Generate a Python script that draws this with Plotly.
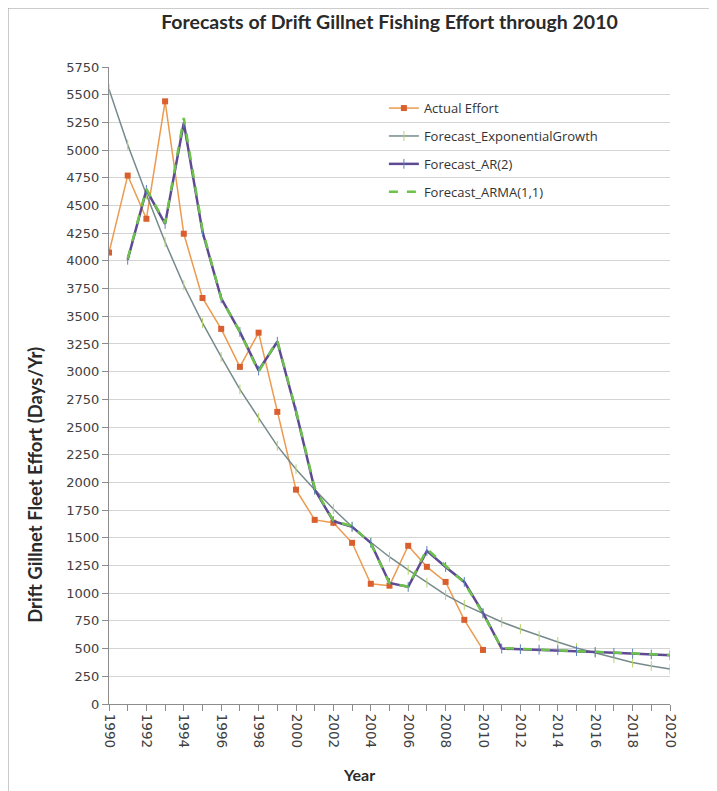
import plotly.graph_objects as go

years_actual = list(range(1990, 2011))
actual_effort = [4075, 4770, 4380, 5440, 4245, 3665, 3386, 3043, 3352, 2637, 1935,
                 1662, 1636, 1455, 1085, 1068, 1428, 1238, 1102, 760, 488]

years_exp = list(range(1990, 2021))
forecast_exp = [5550, 5048, 4600, 4170, 3780, 3440, 3133, 2840, 2583, 2330, 2120,
                1935, 1760, 1600, 1460, 1327, 1210, 1095, 985, 895, 815,
                740, 677, 615, 560, 505, 460, 415, 375, 343, 316]

years_fc = list(range(1991, 2021))
forecast_ar2 = [4010, 4641, 4334, 5246, 4262, 3662, 3359, 3010, 3270, 2640, 1935,
                1650, 1600, 1454, 1093, 1057, 1382, 1237, 1102, 822,
                500, 495, 490, 485, 478, 470, 462, 455, 447, 440]
forecast_arma = [4020, 4650, 4340, 5290, 4280, 3660, 3360, 3000, 3280, 2650, 1950,
                 1655, 1605, 1450, 1090, 1060, 1400, 1245, 1095, 815,
                 505, 498, 492, 486, 480, 472, 465, 457, 450, 443]

y_ticks = list(range(0, 5751, 250))

fig = go.Figure()

fig.add_trace(go.Scatter(
    x=years_actual, y=actual_effort, name="Actual Effort", mode="lines+markers",
    line=dict(color="#EC9A4E", width=1.5),
    marker=dict(symbol="square", size=6, color="#D9602E"),
    legendgroup="a"))
fig.add_trace(go.Scatter(
    x=years_exp, y=forecast_exp, name="Forecast_ExponentialGrowth", mode="lines+markers",
    line=dict(color="#768A8C", width=1.5),
    marker=dict(symbol="line-ns", size=7, line=dict(color="#B5D46A", width=1)),
    legendgroup="b"))
fig.add_trace(go.Scatter(
    x=years_fc, y=forecast_ar2, name="Forecast_AR(2)", mode="lines+markers",
    line=dict(color="#5E4A92", width=2.5),
    marker=dict(symbol="line-ns", size=7, line=dict(color="#5B7FC0", width=1)),
    legendgroup="c"))
fig.add_trace(go.Scatter(
    x=years_fc, y=forecast_arma, name="Forecast_ARMA(1,1)", mode="lines",
    line=dict(color="#6CC24A", width=2.5, dash="dash"),
    legendgroup="d"))

fig.update_layout(
    width=717, height=791,
    paper_bgcolor="white", plot_bgcolor="white",
    margin=dict(l=101, r=55, t=59, b=95),
    title=dict(text="<b>Forecasts of Drift Gillnet Fishing Effort through 2010</b>",
               x=0.5, xref="paper", xanchor="center", y=0.982, yanchor="middle",
               font=dict(family="Lato", size=19.5, color="#2a2a2a")),
    legend=dict(x=0.49, y=0.959, xanchor="left", yanchor="top",
                bgcolor="rgba(0,0,0,0)", tracegroupgap=8,
                font=dict(family="Open Sans", size=13, color="#333333")),
    font=dict(family="DejaVu Sans", size=13, color="#404040"),
)

fig.update_xaxes(
    range=[1990, 2020], tick0=1990, dtick=2, tickangle=90,
    showgrid=False, zeroline=False,
    showline=True, linecolor="#8c8c8c", linewidth=1,
    ticks="outside", ticklen=6, tickcolor="#8c8c8c",
    minor=dict(dtick=1, ticks="outside", ticklen=6, tickcolor="#8c8c8c", showgrid=False),
    tickfont=dict(family="DejaVu Sans", size=13.5, color="#404040"),
)
fig.update_yaxes(
    range=[0, 5750], tickvals=y_ticks, ticktext=[str(v) for v in y_ticks],
    showgrid=True, gridcolor="#d4d4d4", gridwidth=1, zeroline=False,
    showline=True, linecolor="#8c8c8c", linewidth=1,
    ticks="outside", ticklen=6, tickcolor="#8c8c8c",
    tickfont=dict(family="DejaVu Sans", size=13, color="#404040"),
)

fig.add_annotation(text="<b>Year</b>", xref="paper", yref="paper",
                   x=0.445, y=-0.111, xanchor="center", yanchor="middle", showarrow=False,
                   font=dict(family="Lato", size=16, color="#2a2a2a"))
fig.add_annotation(text="<b>Drift Gillnet Fleet Effort (Days/Yr)</b>", xref="paper", yref="paper",
                   x=-0.132, y=0.344, xanchor="center", yanchor="middle", showarrow=False,
                   textangle=-90,
                   font=dict(family="Lato", size=18.5, color="#2a2a2a"))

fig.add_shape(type="rect", xref="paper", yref="paper",
              x0=-0.18, x1=1.085, y0=-0.145, y1=1.0926,
              line=dict(color="#9a9a9a", width=1), fillcolor="rgba(0,0,0,0)", layer="below")

fig.write_html("out.html")
